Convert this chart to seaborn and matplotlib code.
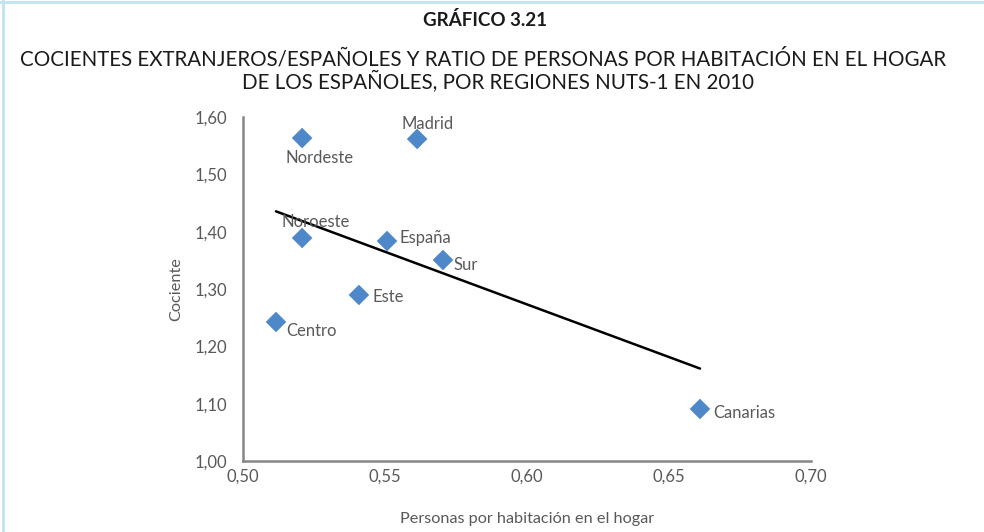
import matplotlib
matplotlib.use("Agg")
import matplotlib.pyplot as plt
from matplotlib.lines import Line2D
import seaborn as sns
import pandas as pd

regions = ["Nordeste", "Madrid", "Noroeste", "España", "Sur", "Este", "Centro", "Canarias"]
personas = [0.5208, 0.5613, 0.5208, 0.5507, 0.5704, 0.5408, 0.5116, 0.6609]
cociente = [1.5634, 1.5617, 1.3890, 1.3837, 1.3506, 1.2896, 1.2425, 1.0907]
x_ticks = [0.50, 0.55, 0.60, 0.65, 0.70]
x_tick_labels = ["0,50", "0,55", "0,60", "0,65", "0,70"]
y_ticks = [1.00, 1.10, 1.20, 1.30, 1.40, 1.50, 1.60]
y_tick_labels = ["1,00", "1,10", "1,20", "1,30", "1,40", "1,50", "1,60"]

df = pd.DataFrame({"region": regions, "x": personas, "y": cociente})
df_reg = df[df["region"] != "España"]

sns.set_style("white")
plt.rcParams["font.family"] = ["Lato", "DejaVu Sans"]

fig = plt.figure(figsize=(9.84, 5.32), dpi=100)
ax = fig.add_axes([0.247, 0.1335, 0.5772, 0.6465])

grey = "#595959"
sns.regplot(data=df_reg, x="x", y="y", scatter=False, ci=None, ax=ax,
            line_kws={"color": "black", "lw": 1.8})
sns.scatterplot(data=df, x="x", y="y", marker="D", s=110, color="#4F88C8",
                edgecolor="none", ax=ax, zorder=3)

offsets = {
    "Madrid": (10, -15, "center"),
    "Nordeste": (17, 20, "center"),
    "Noroeste": (14, -16, "center"),
    "España": (12, -3, "left"),
    "Sur": (11, 5, "left"),
    "Este": (14, 2, "left"),
    "Centro": (10, 9, "left"),
    "Canarias": (13, 4, "left"),
}
for r, xv, yv in zip(regions, personas, cociente):
    dx, dy, ha = offsets[r]
    ax.annotate(r, (xv, yv), xytext=(dx * 0.72, -dy * 0.72), textcoords="offset points",
                ha=ha, va="center", fontsize=12, color=grey)

ax.set_xlim(0.50, 0.70)
ax.set_ylim(1.00, 1.60)
ax.set_xticks(x_ticks)
ax.set_xticklabels(x_tick_labels)
ax.set_yticks(y_ticks)
ax.set_yticklabels(y_tick_labels)
ax.tick_params(axis="both", direction="out", length=3.5, width=1.2, color="#868686",
               labelsize=12, labelcolor=grey)
ax.tick_params(axis="y", pad=8)
ax.tick_params(axis="x", pad=2)
for s in ["top", "right"]:
    ax.spines[s].set_visible(False)
for s in ["left", "bottom"]:
    ax.spines[s].set_color("#868686")
    ax.spines[s].set_linewidth(1.8)
ax.set_xlabel("Personas por habitación en el hogar", fontsize=11.7, color=grey, labelpad=20)
ax.set_ylabel("Cociente", fontsize=11.7, color=grey, labelpad=8)

fig.text(0.493, 0.963, "GRÁFICO 3.21", ha="center", va="center", fontsize=13.5,
         fontweight="bold", color="#1a1a1a")
fig.text(0.491, 0.889, "COCIENTES EXTRANJEROS/ESPAÑOLES Y RATIO DE PERSONAS POR HABITACIÓN EN EL HOGAR",
         ha="center", va="center", fontsize=14.8, color="#1a1a1a")
fig.text(0.5066, 0.845, "DE LOS ESPAÑOLES, POR REGIONES NUTS-1 EN 2010",
         ha="center", va="center", fontsize=14.8, color="#1a1a1a")

fig.add_artist(Line2D([0, 1], [0.996, 0.996], transform=fig.transFigure, color="#BFE4F3", lw=2))
fig.add_artist(Line2D([0.003, 0.003], [0, 1], transform=fig.transFigure, color="#BFE4F3", lw=2))

fig.savefig("out.png", dpi=100, facecolor="white")
